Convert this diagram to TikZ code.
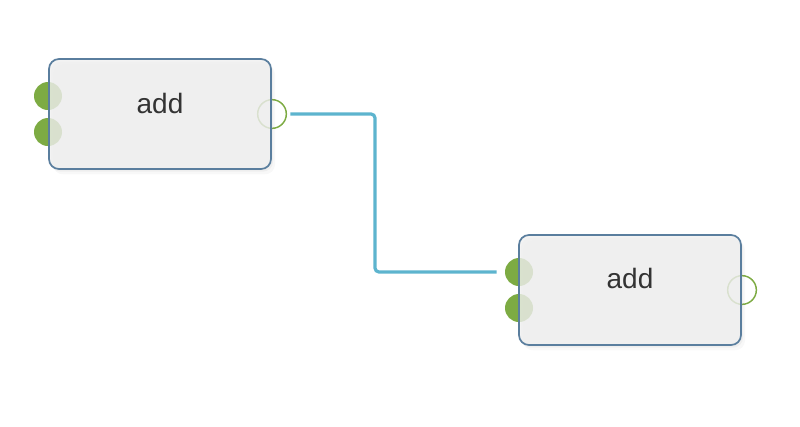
\documentclass[tikz,border=0pt]{standalone}
\usepackage{fontspec}
\setmainfont{Liberation Sans}
\usetikzlibrary{shadows}
\definecolor{boxborder}{HTML}{5A7E9E}
\definecolor{boxfill}{HTML}{F0F0F0}
\definecolor{portgreen}{HTML}{7DAB43}
\definecolor{wireblue}{HTML}{5DB4CE}
\definecolor{labelgray}{HTML}{333333}

\begin{document}
\begin{tikzpicture}[x=0.75pt, y=-0.75pt,
  addbox/.style={draw=boxborder, line width=1.3pt, fill=boxfill, fill opacity=0.8,
    rounded corners=7.5pt, minimum width=166.5pt, minimum height=82.5pt, inner sep=0pt,
    drop shadow={opacity=0.06, shadow xshift=3pt, shadow yshift=-4pt},
    drop shadow={opacity=0.08, shadow xshift=1.5pt, shadow yshift=-2pt}},
  inport/.style={circle, fill=portgreen, minimum size=21pt, inner sep=0pt},
  outport/.style={circle, draw=portgreen, line width=1.1pt, minimum size=21.5pt, inner sep=0pt},
  addlabel/.style={text=labelgray, font=\fontsize{21}{25}\selectfont},
  wire/.style={draw=wireblue, line width=2.4pt, rounded corners=3pt}]

  \useasboundingbox (0,0) rectangle (800,426);

  % Draw ports
  \node[inport] (in1) at (48,96) {};
  \node[inport] (in2) at (48,132) {};
  \node[outport] (out1) at (272,114) {};
  \node[inport] (in3) at (519,272) {};
  \node[inport] (in4) at (519,308) {};
  \node[outport] (out2) at (742,290) {};

  % Draw boxes
  \node[addbox] (add1) at (160,114) {};
  \node[addbox] (add2) at (630,290) {};

  % Label the boxes
  \node[addlabel] (lbl1) at (160,103) {add};
  \node[addlabel] (lbl2) at (630,278) {add};

  % Draw wire
  \coordinate (bend) at (375,200);
  \draw[wire, shorten <=2.5pt, shorten >=6pt] (out1.east) -| (bend) |- (in3.west);

\end{tikzpicture}
\end{document}
